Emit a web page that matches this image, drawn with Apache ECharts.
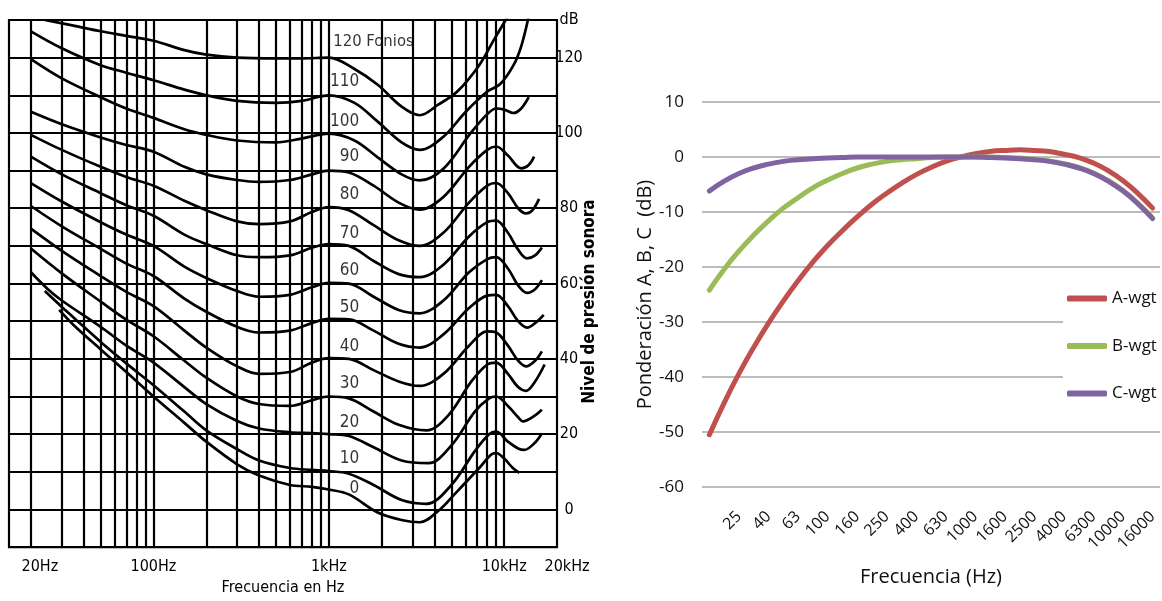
<!DOCTYPE html>
<html><head><meta charset="utf-8">
<script src="https://cdn.jsdelivr.net/npm/echarts@6/dist/echarts.min.js"></script>
<style>html,body{margin:0;padding:0;background:#fff}#c{width:1162px;height:601px}</style>
</head><body><div id="c"></div>
<script>
// ---------- Left chart: equal-loudness contours (frequency Hz, level dB) ----------
const phon120 = [[24,130],[35,128.5],[50,127],[70,125.8],[100,124.5],[150,122],[200,120.8],[300,120],[500,119.8],[700,119.8],[1000,120],[1400,117],[1900,112.8],[2600,107],[3300,104.7],[4200,107.5],[5400,111],[7200,118],[8800,125],[10500,131]];
const phon110 = [[20,127],[30,122.5],[50,118],[70,116],[100,114],[150,111.5],[200,110],[300,108.5],[500,108],[700,108.5],[1000,110],[1400,108],[1900,103],[2600,97.5],[3300,95.5],[4500,99],[6000,105.5],[8000,111],[9500,113],[11300,118],[12500,123],[13800,131]];
const phon100 = [[20,119.6],[30,114.5],[50,109.5],[70,106.5],[100,104],[150,101],[200,99.5],[300,98],[500,97.5],[700,98.5],[1000,99.8],[1400,98],[1900,93.5],[2600,89],[3300,87.4],[4500,90.5],[6400,99.8],[8000,105],[9000,106.5],[10000,106.2],[11300,105.3],[12500,106.5],[13800,109.5]];
const phon90 = [[20,105.6],[30,102.3],[50,98.8],[70,96.8],[100,95],[150,91],[200,89],[300,87.5],[400,87],[600,87.5],[800,89],[1000,90],[1300,89.5],[1800,86],[2500,81.5],[3300,79.6],[4500,83],[6300,91],[8000,95.5],[9000,96.4],[10500,94],[12500,90.6],[13800,91.5],[14800,93.7]];
const phon80 = [[20,99.5],[30,95.5],[50,91],[70,88.3],[100,86],[150,82],[200,79.5],[300,76.5],[400,75.8],[600,76.5],[800,79],[1000,80.3],[1300,79.5],[1800,75.5],[2500,71.5],[3300,70],[4500,73.5],[6300,81.5],[8000,86],[9000,86.7],[10500,84],[12000,80],[13300,78.6],[14500,79.5],[15800,82.5]];
const phon70 = [[20,93.7],[30,89],[50,84],[70,80.8],[100,78],[150,73],[200,70.5],[300,67.5],[400,67],[600,67.5],[800,69.5],[1000,70.5],[1300,70],[1800,66],[2500,62.5],[3300,61.7],[4500,65],[6300,72.5],[8000,76.3],[9000,76.7],[10500,73.5],[12000,69],[13500,66.7],[15000,67.5],[16400,69.6]];
const phon60 = [[20,86.7],[30,81.8],[50,76.3],[70,73],[100,70],[150,64.5],[200,61.5],[300,58],[400,56.5],[600,57],[800,59],[1000,60.2],[1300,60],[1800,56.5],[2500,53],[3300,52.1],[4500,55.5],[6300,63],[8000,66.5],[9000,67],[10500,64],[12000,59.5],[13500,57.5],[15000,58.5],[16400,60.9]];
const phon50 = [[20,80.6],[30,75.2],[50,69.2],[70,65.3],[100,62],[150,56],[200,52.5],[300,48.5],[400,47],[600,47.5],[800,49.5],[1000,50.6],[1300,50.5],[1800,47.5],[2500,44],[3300,43],[4500,46.5],[6300,53.5],[8000,56.8],[9000,57],[10500,54],[12000,50],[13500,48.3],[15000,49.5],[16800,51.7]];
const phon40 = [[20,74.6],[30,68.7],[50,62],[70,57.8],[100,54],[150,47.5],[200,43],[300,38],[400,36],[600,36.5],[800,39],[1000,40.2],[1300,40],[1800,37],[2500,34],[3300,32.8],[4500,36],[6300,43.5],[8000,47.3],[9000,47],[10500,43.5],[12000,39.5],[13300,38],[15000,39.5],[16400,42]];
const phon30 = [[20,69.3],[30,62.7],[50,55.2],[70,50.4],[100,46],[150,39.5],[200,35],[300,30],[400,28],[600,27.5],[800,29],[1000,30],[1300,29.5],[1800,26],[2500,22.5],[3600,21],[4800,25],[6500,34],[8000,38.5],[9000,39],[10500,36],[12000,32.5],[13300,31.5],[15000,34],[17000,38.5]];
const phon20 = [[20,63],[25,58.5],[30,55.5],[50,48.5],[70,43.5],[100,39],[150,32.5],[200,28],[300,23.5],[400,21.5],[600,20.5],[800,20.3],[1000,20],[1300,19.5],[1800,16.5],[2600,13],[3700,12.3],[5000,17],[6800,26],[8200,29.5],[9000,30],[10500,27.5],[12000,24.5],[12800,23.4],[14500,24.5],[16400,26.5]];
const phon10 = [[24,58],[30,53.8],[35,51],[50,44.5],[70,38.8],[100,33],[150,26],[200,21],[300,16],[400,13],[600,11],[800,10.5],[1000,10.2],[1300,9.5],[1800,6.5],[2600,2.5],[3600,1.5],[5000,6.5],[6800,15.5],[8200,20],[9000,20.7],[10500,18],[12000,16.2],[13000,15.8],[14800,17.5],[16400,20.2]];
const phon0 = [[29,53],[35,49],[50,42.5],[70,36.5],[100,30],[150,23],[200,18],[300,12],[400,9],[600,6.5],[800,6],[1000,5.3],[1300,4],[1900,-0.8],[2600,-2.8],[3300,-3.4],[4300,0],[5200,4],[7200,11],[8400,14.5],[9000,15],[10000,13.5],[11200,11],[12200,9.7]];
const contours = [phon120, phon110, phon100, phon90, phon80, phon70, phon60, phon50, phon40, phon30, phon20, phon10, phon0];

const gridFreqs = [20,30,40,50,60,70,80,90,100,200,300,400,500,600,700,800,900,1000,2000,3000,4000,5000,6000,7000,8000,9000,10000];
const freqTickValues = [20, 100, 1000, 10000, 20000];
const freqTickLabels = ['20Hz', '100Hz', '1kHz', '10kHz', '20kHz'];
const phonLabelText = ['110','100','90','80','70','60','50','40','30','20','10','0'];
const phonLabelDb = [113.7,103,93.7,83.6,73.4,63.4,53.7,43.2,33.5,23,13.5,5.6];
const phonLabelFreq = 1490;
const topLabelText = '120 Fonios';
const topLabelPoint = [1060, 124.2];

// ---------- Right chart: A/B/C weighting ----------
const bandLabels = ['20','25','31.5','40','50','63','80','100','125','160','200','250','315','400','500','630','800','1000','1250','1600','2000','2500','3150','4000','5000','6300','8000','10000','12500','16000','20000'];
const aWeight = [-50.5,-44.7,-39.4,-34.6,-30.2,-26.2,-22.5,-19.1,-16.1,-13.4,-10.9,-8.6,-6.6,-4.8,-3.2,-1.9,-0.8,0,0.6,1.0,1.2,1.3,1.2,1.0,0.5,-0.1,-1.1,-2.5,-4.3,-6.6,-9.3];
const bWeight = [-24.2,-20.4,-17.1,-14.2,-11.6,-9.3,-7.4,-5.6,-4.2,-3.0,-2.0,-1.3,-0.8,-0.5,-0.3,-0.1,0,0,0,0,-0.1,-0.2,-0.4,-0.7,-1.2,-1.9,-2.9,-4.3,-6.1,-8.4,-11.1];
const cWeight = [-6.2,-4.4,-3.0,-2.0,-1.3,-0.8,-0.5,-0.3,-0.2,-0.1,0,0,0,0,0,0,0,0,0,-0.1,-0.2,-0.3,-0.5,-0.8,-1.3,-2.0,-3.0,-4.4,-6.2,-8.5,-11.2];
const weightNames = ['A-wgt','B-wgt','C-wgt'];

const COND = "'DejaVu Sans Condensed','Liberation Sans Narrow','Liberation Sans',sans-serif";
const SANS = "'Open Sans','Noto Sans',sans-serif";

const chart = echarts.init(document.getElementById('c'), null, {renderer:'canvas'});

function tickLabel(v){
  for (let i=0;i<freqTickValues.length;i++){
    if (Math.abs(v-freqTickValues[i])/freqTickValues[i] < 1e-3) {
      const t = freqTickLabels[i];
      if (i===0) return '{s|'+t+'}';
      if (i===freqTickValues.length-1) return '{e|'+t+'}';
      return t;
    }
  }
  return '';
}

const contourSeries = contours.map((d, i) => ({
  type:'line', xAxisIndex:0, yAxisIndex:0, data:d, symbol:'none', smooth:0.35,
  clip:true, silent:true, z:3,
  lineStyle:{color:'#000', width:2.7},
  markLine: i===0 ? {
    silent:true, symbol:['none','none'], label:{show:false}, animation:false,
    lineStyle:{color:'#000', width:2.2, type:'solid'},
    data: gridFreqs.map(f => ({xAxis:f}))
  } : undefined
}));

const lblStyle = {fontFamily:COND, fontSize:16, color:'#000'};

const option = {
  animation:false,
  backgroundColor:'#fff',
  grid:[
    {left:9, right:605, top:20, bottom:46, show:true, borderColor:'#000', borderWidth:2.2, backgroundColor:'rgba(0,0,0,0)'},
    {left:702, right:2, top:102, bottom:114}
  ],
  xAxis:[
    {gridIndex:0, type:'log', logBase:10, min:15, max:20000,
     axisLine:{show:false}, axisTick:{show:false}, splitLine:{show:false},
     axisLabel:Object.assign({customValues:freqTickValues, formatter:tickLabel, margin:12,
       rich:{s:Object.assign({padding:[0,0,0,18]}, lblStyle), e:Object.assign({padding:[0,0,0,20]}, lblStyle)}}, lblStyle),
     name:'Frecuencia en Hz', nameLocation:'middle', nameGap:29,
     nameTextStyle:{fontFamily:COND, fontSize:16, color:'#000'}},
    {gridIndex:1, type:'category', data:bandLabels, boundaryGap:true,
     axisLine:{show:false}, axisTick:{show:false},
     axisLabel:{interval:(i)=> i%2===0 && i>0, formatter:(v, idx)=> bandLabels[idx-1],
       rotate:45, fontFamily:SANS, fontSize:16, color:'#111', margin:27},
     name:'Frecuencia (Hz)', nameLocation:'middle', nameGap:80, nameMoveOverlap:false,
     nameTextStyle:{fontFamily:SANS, fontSize:20, color:'#111'}}
  ],
  yAxis:[
    {gridIndex:0, type:'value', min:-10, max:130, interval:10, position:'right',
     axisLine:{show:false}, axisTick:{show:false},
     splitLine:{show:true, lineStyle:{color:'#000', width:2.2}},
     axisLabel:{showMaxLabel:true, showMinLabel:true, align:'center', margin:12, fontFamily:COND, fontSize:16, color:'#000',
       formatter:(v)=> v===130 ? 'dB' : ((v>=0 && v<=120 && v%20===0) ? String(v) : '')},
     name:'Nivel de presión sonora', nameLocation:'middle', nameRotate:90, nameGap:24, nameMoveOverlap:false,
     nameTextStyle:{fontFamily:COND, fontSize:17, fontWeight:'bold', color:'#000', padding:[0,36,0,0]}},
    {gridIndex:1, type:'value', min:-60, max:10, interval:10,
     axisLine:{show:false}, axisTick:{show:false},
     splitLine:{show:true, lineStyle:{color:'#a6a6a6', width:1.5}},
     axisLabel:{fontFamily:SANS, fontSize:17, color:'#111', margin:18},
     name:'Ponderación A, B, C  (dB)', nameLocation:'middle', nameGap:44,
     nameTextStyle:{fontFamily:SANS, fontSize:20, color:'#111'}}
  ],
  legend:{
    data:weightNames, orient:'vertical', left:1063, top:280, itemWidth:40, itemHeight:6, itemGap:30.5,
    icon:'roundRect', backgroundColor:'#fff', padding:[10,4,10,4],
    textStyle:{fontFamily:SANS, fontSize:17, color:'#111'}
  },
  series:[
    ...contourSeries,
    {type:'scatter', xAxisIndex:0, yAxisIndex:0, symbolSize:0, silent:true, z:5,
     data: phonLabelText.map((t,i)=>({name:t, value:[phonLabelFreq, phonLabelDb[i]]})),
     label:{show:true, position:'left', distance:0, formatter:'{b}', fontFamily:COND, fontSize:17, color:'#000'}},
    {type:'scatter', xAxisIndex:0, yAxisIndex:0, symbolSize:0, silent:true, z:5,
     data:[{name:topLabelText, value:topLabelPoint}],
     label:{show:true, position:'right', distance:0, formatter:'{b}', fontFamily:COND, fontSize:16.5, color:'#000'}},
    {name:weightNames[0], type:'line', xAxisIndex:1, yAxisIndex:1, data:aWeight, symbol:'none', smooth:true,
     lineStyle:{color:'#c0504d', width:5, cap:'round'}, itemStyle:{color:'#c0504d'}},
    {name:weightNames[1], type:'line', xAxisIndex:1, yAxisIndex:1, data:bWeight, symbol:'none', smooth:true,
     lineStyle:{color:'#9bbb59', width:5, cap:'round'}, itemStyle:{color:'#9bbb59'}},
    {name:weightNames[2], type:'line', xAxisIndex:1, yAxisIndex:1, data:cWeight, symbol:'none', smooth:true,
     lineStyle:{color:'#8064a2', width:5, cap:'round'}, itemStyle:{color:'#8064a2'}}
  ]
};
chart.setOption(option);
</script></body></html>
